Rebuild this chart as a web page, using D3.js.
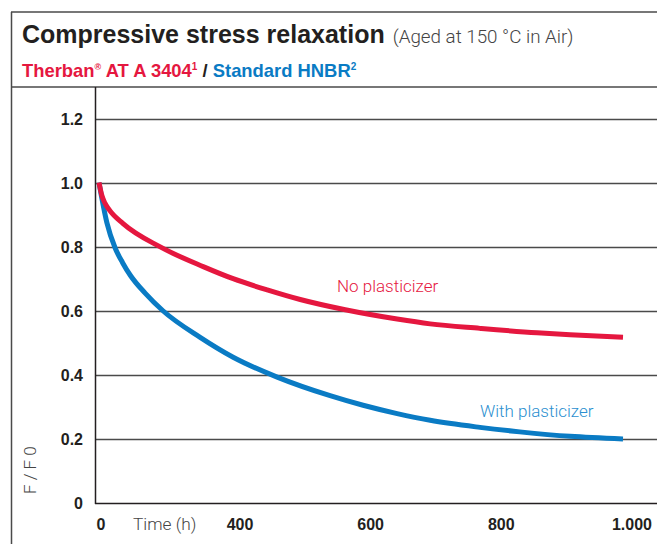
<!DOCTYPE html>
<html><head><meta charset="utf-8">
<script src="https://cdn.jsdelivr.net/npm/d3@7"></script>
<style>
html,body{margin:0;padding:0;background:#fff;}
svg{display:block;}
</style></head>
<body>
<svg id="c" width="657" height="544"></svg>
<script>
// ---- data ----
const redTimes   = [0, 5, 11, 20, 46, 116, 200, 256, 321, 384, 470, 569, 632, 727, 836, 899, 1000];
const redValues  = [1.0, 0.962, 0.937, 0.914, 0.872, 0.80, 0.737, 0.70, 0.665, 0.635, 0.603, 0.574, 0.559, 0.545, 0.531, 0.525, 0.517];
const blueTimes  = [0, 5, 15, 31, 45, 60, 88, 122, 193, 256, 340, 441, 504, 569, 632, 727, 803, 899, 1000];
const blueValues = [1.0, 0.955, 0.875, 0.795, 0.75, 0.71, 0.655, 0.60, 0.517, 0.455, 0.393, 0.335, 0.305, 0.279, 0.258, 0.236, 0.222, 0.208, 0.200];
const yTicks = [0, 0.2, 0.4, 0.6, 0.8, 1.0, 1.2];
const yTickLabels = ["0", "0.2", "0.4", "0.6", "0.8", "1.0", "1.2"];
const xTicks = [0, 400, 600, 800, 1000];
const xTickLabels = ["0", "400", "600", "800", "1.000"];
const seriesNames = ["No plasticizer", "With plasticizer"];

const RED = "#e5173f", BLUE = "#0a7bc4", DARK = "#231f20", GRID = "#4a4a4a";
const svg = d3.select("#c");

// frame
svg.append("line").attr("x1",11).attr("x2",657).attr("y1",12).attr("y2",12).attr("stroke",GRID).attr("stroke-width",1.5);
svg.append("line").attr("x1",11.5).attr("x2",11.5).attr("y1",12).attr("y2",544).attr("stroke",GRID).attr("stroke-width",1.5);
svg.append("line").attr("x1",11).attr("x2",657).attr("y1",87).attr("y2",87).attr("stroke",GRID).attr("stroke-width",1.5);

// title
const t1 = svg.append("text").attr("x",22).attr("y",43).attr("font-family","Liberation Sans, Arial, sans-serif").attr("fill",DARK);
t1.append("tspan").attr("font-weight","bold").attr("font-size",25).text("Compressive stress relaxation");
t1.append("tspan").attr("font-family","Roboto, sans-serif").attr("font-weight",300).attr("font-size",18.8).attr("fill","#444").attr("dx",8).text("(Aged at 150 °C in Air)");

const t2 = svg.append("text").attr("x",22).attr("y",77).attr("font-family","Liberation Sans, Arial, sans-serif").attr("font-weight","bold").attr("font-size",18.4);
t2.append("tspan").attr("fill",RED).text("Therban");
t2.append("tspan").attr("fill",RED).attr("font-size",9).attr("dy",-7).text("®");
t2.append("tspan").attr("fill",RED).attr("dy",7).text(" AT A 3404");
t2.append("tspan").attr("fill",RED).attr("font-size",10).attr("dy",-7).text("1");
t2.append("tspan").attr("fill",DARK).attr("dy",7).text(" / ");
t2.append("tspan").attr("fill",BLUE).text("Standard HNBR");
t2.append("tspan").attr("fill",BLUE).attr("font-size",10).attr("dy",-7).text("2");

// scales
const x = d3.scaleLinear().domain([0,1000]).range([99,623]);
const y = d3.scaleLinear().domain([0,1.2]).range([503,118.5]);
const xLab = d3.scaleLinear().domain([0,400,1000]).range([101,240,632]);

// grid
svg.append("g").selectAll("line").data(yTicks.filter(d=>d>0)).join("line")
  .attr("x1",96).attr("x2",657).attr("y1",d=>Math.round(y(d))+0.5).attr("y2",d=>Math.round(y(d))+0.5)
  .attr("stroke",GRID).attr("stroke-width",1.4);
// axes lines
svg.append("line").attr("x1",95.5).attr("x2",95.5).attr("y1",87).attr("y2",504).attr("stroke",DARK).attr("stroke-width",1.5);
svg.append("line").attr("x1",95).attr("x2",657).attr("y1",503.5).attr("y2",503.5).attr("stroke",DARK).attr("stroke-width",1.6);

// y tick labels
svg.append("g").selectAll("text").data(yTicks).join("text")
  .attr("x",83).attr("y",d=>y(d)+6).attr("text-anchor","end")
  .attr("font-family","Liberation Sans, Arial, sans-serif").attr("font-weight","bold").attr("font-size",16).attr("fill",DARK)
  .text((d,i)=>yTickLabels[i]);

// x tick labels
svg.append("g").selectAll("text").data(xTicks).join("text")
  .attr("x",d=>xLab(d)).attr("y",530).attr("text-anchor","middle")
  .attr("font-family","Liberation Sans, Arial, sans-serif").attr("font-weight","bold").attr("font-size",16).attr("fill",DARK)
  .text((d,i)=>xTickLabels[i]);

// axis titles
svg.append("text").attr("x",133).attr("y",530)
  .attr("font-family","Roboto, sans-serif").attr("font-weight",300).attr("font-size",17.3).attr("fill","#444").text("Time (h)");
svg.append("text").attr("transform","translate(36,494) rotate(-90)")
  .attr("font-family","Roboto, sans-serif").attr("font-weight",300).attr("font-size",17).attr("fill","#444").text("F / F 0");

// curves
const line = d3.line().x(d=>x(d[0])).y(d=>y(d[1])).curve(d3.curveMonotoneX);
const redData = redTimes.map((t,i)=>[t,redValues[i]]);
const blueData = blueTimes.map((t,i)=>[t,blueValues[i]]);
svg.append("path").datum(blueData).attr("d",line).attr("fill","none").attr("stroke",BLUE).attr("stroke-width",5);
svg.append("path").datum(redData).attr("d",line).attr("fill","none").attr("stroke",RED).attr("stroke-width",5);

// series labels
svg.append("text").attr("x",337).attr("y",292)
  .attr("font-family","Roboto, sans-serif").attr("font-weight",300).attr("font-size",17).attr("fill",RED).text(seriesNames[0]);
svg.append("text").attr("x",480).attr("y",417)
  .attr("font-family","Roboto, sans-serif").attr("font-weight",300).attr("font-size",17).attr("fill","#2b8fd0").text(seriesNames[1]);
</script>
</body></html>
